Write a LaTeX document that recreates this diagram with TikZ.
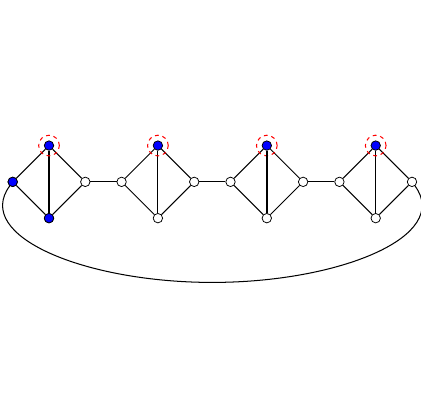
\documentclass[tikz,border=0pt]{standalone}
\usetikzlibrary{calc}
\begin{document}
\begin{tikzpicture}[x=1cm, y=1cm, line width=0.8pt]
\tikzset{vertex/.style={circle, draw, fill=white, inner sep=0pt, minimum size=0.26cm, line width=0.6pt},
  chosen/.style={fill=blue},
  ring/.style={circle, draw=red, dashed, inner sep=0pt, minimum size=0.57cm, line width=0.8pt}}
\useasboundingbox (-1.35,-6.56) rectangle (10.22,5.01);

\foreach \k [count=\i] in {0,3,6,9}
{
  \node [vertex] (left-\i) at (\k-1,0) {};
  \node [vertex, chosen] (top-\i) at (\k,1) {};
  \node [vertex] (bottom-\i) at (\k,-1) {};
  \node [vertex] (right-\i) at (\k+1,0) {};
}
% erste Raute markiert
\node [vertex, chosen] at (left-1) {};
\node [vertex, chosen] at (bottom-1) {};

\foreach \i in {1,...,4}
{
  \draw (left-\i) -- (top-\i) -- (right-\i) -- (bottom-\i) -- (left-\i);
  \draw (top-\i) -- (bottom-\i);
  \node [ring] (ring-\i) at (top-\i) {};
}
\draw [line width=1.4pt] (top-3) -- (bottom-3);

\foreach \i [count=\j from 2] in {1,2,3}
  \draw (right-\i) -- (left-\j);

\coordinate (low) at (4.5,-2.77);
\draw (left-1) .. controls +(-1.1,-1.5) and +(-3.5,0) .. (low)
  .. controls +(3.5,0) and +(1.1,-1.5) .. (right-4);
\end{tikzpicture}
\end{document}
